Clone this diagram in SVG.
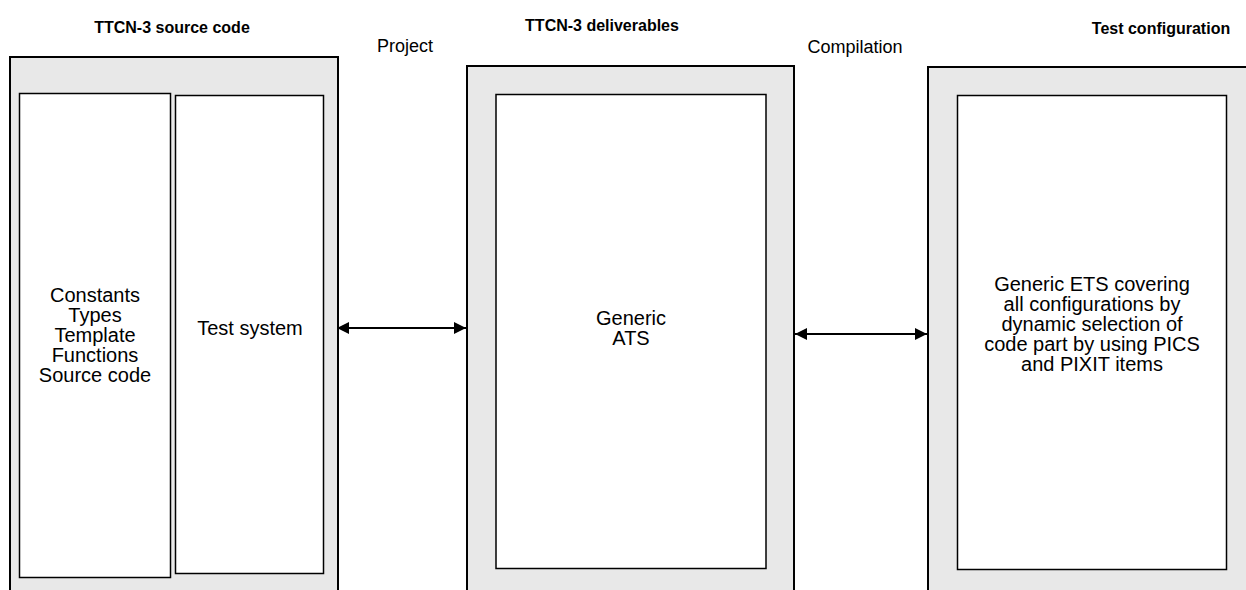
<svg xmlns="http://www.w3.org/2000/svg" width="1246" height="590" viewBox="0 0 1246 590">
<style>
.outer{fill:#e8e8e8;stroke:#000;stroke-width:2}
.inner{fill:#fff;stroke:#000;stroke-width:1.5}
.t{font-family:"Liberation Sans",Arial,sans-serif;font-size:20px;fill:#000;text-anchor:middle}
.h{font-family:"Liberation Sans",Arial,sans-serif;font-size:18px;fill:#000;text-anchor:middle}
.b{font-weight:bold;font-size:16px}
.conn{stroke:#000;stroke-width:2;fill:none}
</style>
<defs>
<marker id="ah" viewBox="0 0 12 12" refX="12" refY="6" markerWidth="12" markerHeight="12" markerUnits="userSpaceOnUse" orient="auto-start-reverse">
<path d="M0,0 L12,6 L0,12 Z" fill="#000"/>
</marker>
</defs>
<rect width="1246" height="590" fill="#fff"/>
<g id="labels">
<text class="h b" x="172" y="33">TTCN-3 source code</text>
<text class="h" x="405" y="52">Project</text>
<text class="h b" x="602" y="31">TTCN-3 deliverables</text>
<text class="h" x="855" y="53">Compilation</text>
<text class="h b" x="1161" y="34">Test configuration</text>
</g>
<g id="source">
<rect class="outer" x="10" y="57" width="328" height="545"/>
<rect class="inner" x="19.5" y="93.5" width="151" height="484"/>
<text class="t"><tspan x="95" y="302">Constants</tspan><tspan x="95" y="322">Types</tspan><tspan x="95" y="342">Template</tspan><tspan x="95" y="362">Functions</tspan><tspan x="95" y="382">Source code</tspan></text>
</g>
<g id="testsystem">
<rect class="inner" x="175.5" y="95.5" width="148" height="478"/>
<text class="t" x="250" y="335">Test system</text>
</g>
<g id="deliverables">
<rect class="outer" x="467" y="66" width="327" height="540"/>
<rect class="inner" x="496" y="94.5" width="270" height="474"/>
<text class="t"><tspan x="631" y="325">Generic</tspan><tspan x="631" y="345">ATS</tspan></text>
</g>
<g id="testconfig">
<rect class="outer" x="928" y="67" width="330" height="540"/>
<rect class="inner" x="957.5" y="95.5" width="269" height="474"/>
<text class="t"><tspan x="1092" y="291">Generic ETS covering</tspan><tspan x="1092" y="311">all configurations by</tspan><tspan x="1092" y="331">dynamic selection of</tspan><tspan x="1092" y="351">code part by using PICS</tspan><tspan x="1092" y="371">and PIXIT items</tspan></text>
</g>
<g id="connectors">
<line class="conn" x1="337" y1="328" x2="466" y2="328" marker-start="url(#ah)" marker-end="url(#ah)"/>
<line class="conn" x1="795" y1="334" x2="927" y2="334" marker-start="url(#ah)" marker-end="url(#ah)"/>
</g>
</svg>
